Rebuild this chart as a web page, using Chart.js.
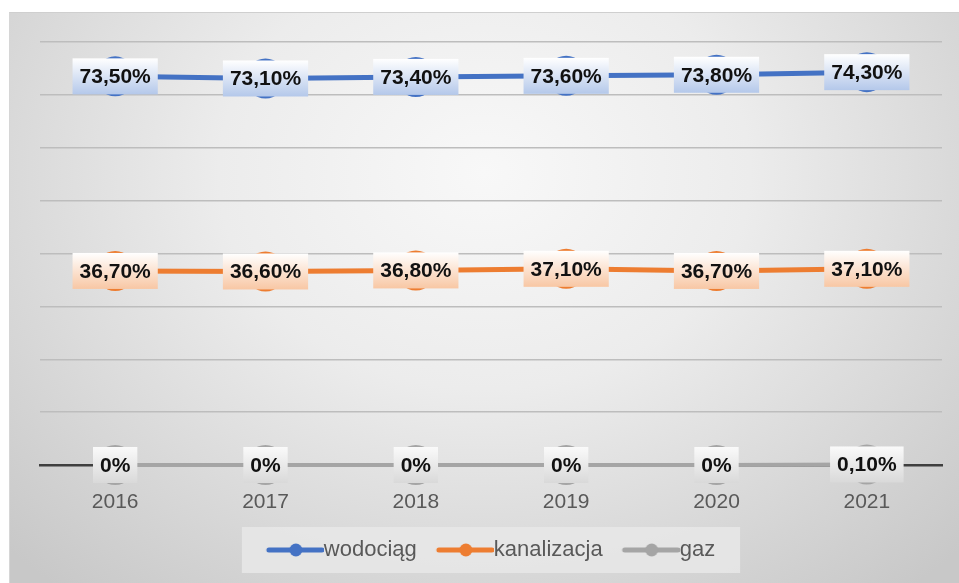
<!DOCTYPE html>
<html>
<head>
<meta charset="utf-8">
<script src="https://cdn.jsdelivr.net/npm/chart.js@4/dist/chart.umd.min.js"></script>
<style>
  html, body { margin: 0; padding: 0; background: #ffffff; }
  #wrap { position: relative; width: 959px; height: 583px; overflow: hidden; }
  #bg { position: absolute; left: 9px; top: 12px; width: 950px; height: 571px;
        background: radial-gradient(ellipse 70% 95% at 50% 28%, #f8f8f8 0%, #ececec 40%, #d4d4d4 80%, #c8c8c8 100%);
        border-top: 1px solid #cfcfcf; border-left: 1px solid #d6d6d6; box-sizing: border-box; }
  #c { position: absolute; left: 0; top: 0; }
</style>
</head>
<body>
<div id="wrap">
  <div id="bg"></div>
  <canvas id="c" width="959" height="583"></canvas>
</div>
<script>
const years = ['2016', '2017', '2018', '2019', '2020', '2021'];
const wodociag = [73.5, 73.1, 73.4, 73.6, 73.8, 74.3];
const kanalizacja = [36.7, 36.6, 36.8, 37.1, 36.7, 37.1];
const gaz = [0, 0, 0, 0, 0, 0.1];
const seriesNames = ['wodociąg', 'kanalizacja', 'gaz'];
const yTicks = [0, 10, 20, 30, 40, 50, 60, 70, 80];

const colors = ['#4472C4', '#ED7D31', '#A5A5A5'];
const labelGrad = [['#ffffff', '#b4c8ea'], ['#ffffff', '#f8c7a4'], ['#fafafa', '#d9d9d9']];

function fmt(v) {
  if (v === 0) return '0%';
  return v.toFixed(2).replace('.', ',') + '%';
}

function legendIcon(color) {
  const c = document.createElement('canvas');
  c.width = 68; c.height = 14;
  const g = c.getContext('2d');
  g.strokeStyle = color; g.lineWidth = 5; g.lineCap = 'round';
  g.beginPath(); g.moveTo(13, 7); g.lineTo(66, 7); g.stroke();
  g.fillStyle = color;
  g.beginPath(); g.arc(40, 7, 6.5, 0, Math.PI * 2); g.fill();
  return c;
}

const labelPlugin = {
  id: 'boxLabels',
  afterDatasetsDraw(chart) {
    const ctx = chart.ctx;
    ctx.save();
    ctx.font = 'bold 21px "Liberation Sans", Arial, sans-serif';
    ctx.textAlign = 'center';
    ctx.textBaseline = 'middle';
    chart.data.datasets.forEach((ds, di) => {
      const meta = chart.getDatasetMeta(di);
      meta.data.forEach((pt, i) => {
        const txt = fmt(ds.data[i]);
        const w = ctx.measureText(txt).width + 14;
        const h = 36;
        const x = pt.x - w / 2, y = pt.y - h / 2;
        const g = ctx.createLinearGradient(0, y, 0, y + h);
        g.addColorStop(0, labelGrad[di][0]);
        g.addColorStop(1, labelGrad[di][1]);
        ctx.fillStyle = g;
        ctx.fillRect(x, y, w, h);
        ctx.fillStyle = '#111111';
        ctx.fillText(txt, pt.x, pt.y + 1);
      });
    });
    ctx.restore();
  }
};

const legendBgPlugin = {
  id: 'legendBg',
  beforeDraw(chart) {
    const lg = chart.legend;
    if (!lg || !lg.legendHitBoxes || !lg.legendHitBoxes.length) return;
    let l = Infinity, r = -Infinity, t = Infinity, b = -Infinity;
    lg.legendHitBoxes.forEach(hb => {
      l = Math.min(l, hb.left); r = Math.max(r, hb.left + hb.width);
      t = Math.min(t, hb.top); b = Math.max(b, hb.top + hb.height);
    });
    const ctx = chart.ctx;
    ctx.save();
    ctx.fillStyle = 'rgba(232,232,232,0.85)';
    ctx.fillRect(l - 25, t - 12, (r - l) + 50, (b - t) + 24);
    ctx.restore();
  }
};

const dataSeries = [wodociag, kanalizacja, gaz];

new Chart(document.getElementById('c'), {
  type: 'line',
  data: {
    labels: years,
    datasets: dataSeries.map((d, i) => ({
      label: seriesNames[i],
      data: d,
      borderColor: colors[i],
      backgroundColor: colors[i],
      pointBackgroundColor: colors[i],
      pointBorderWidth: 0,
      pointRadius: 20,
      pointHoverRadius: 20,
      borderWidth: i === 2 ? 4 : 5,
      tension: 0,
      clip: false,
      pointStyle: 'circle'
    }))
  },
  options: {
    responsive: false,
    animation: false,
    events: [],
    layout: { autoPadding: false, padding: { left: 40, right: 17, top: 42, bottom: 12 } },
    scales: {
      x: {
        offset: true,
        grid: { display: false, drawTicks: false },
        border: { display: true, color: '#3f3f3f', width: 2.5 },
        ticks: { color: '#595959', font: { family: '"Liberation Sans", Arial, sans-serif', size: 21 }, padding: 25 },
        afterFit(scale) { scale.height = 54; }
      },
      y: {
        min: yTicks[0], max: yTicks[yTicks.length - 1],
        afterBuildTicks(scale) { scale.ticks = yTicks.map(v => ({ value: v })); },
        ticks: { display: false },
        grid: { color: '#bdbdbd', lineWidth: 1.5, drawTicks: false },
        border: { display: false },
        afterFit(scale) { scale.width = 0; }
      }
    },
    plugins: {
      tooltip: { enabled: false },
      legend: {
        position: 'bottom',
        labels: {
          usePointStyle: true,
          pointStyleWidth: 46,
          padding: 20,
          color: '#595959',
          font: { family: '"Liberation Sans", Arial, sans-serif', size: 22 },
          generateLabels(chart) {
            return chart.data.datasets.map((ds, i) => ({
              text: ds.label,
              pointStyle: legendIcon(colors[i]),
              fillStyle: colors[i],
              strokeStyle: colors[i],
              lineWidth: 0,
              hidden: false,
              datasetIndex: i,
              fontColor: '#595959'
            }));
          }
        }
      }
    }
  },
  plugins: [legendBgPlugin, labelPlugin]
});
</script>
</body>
</html>
